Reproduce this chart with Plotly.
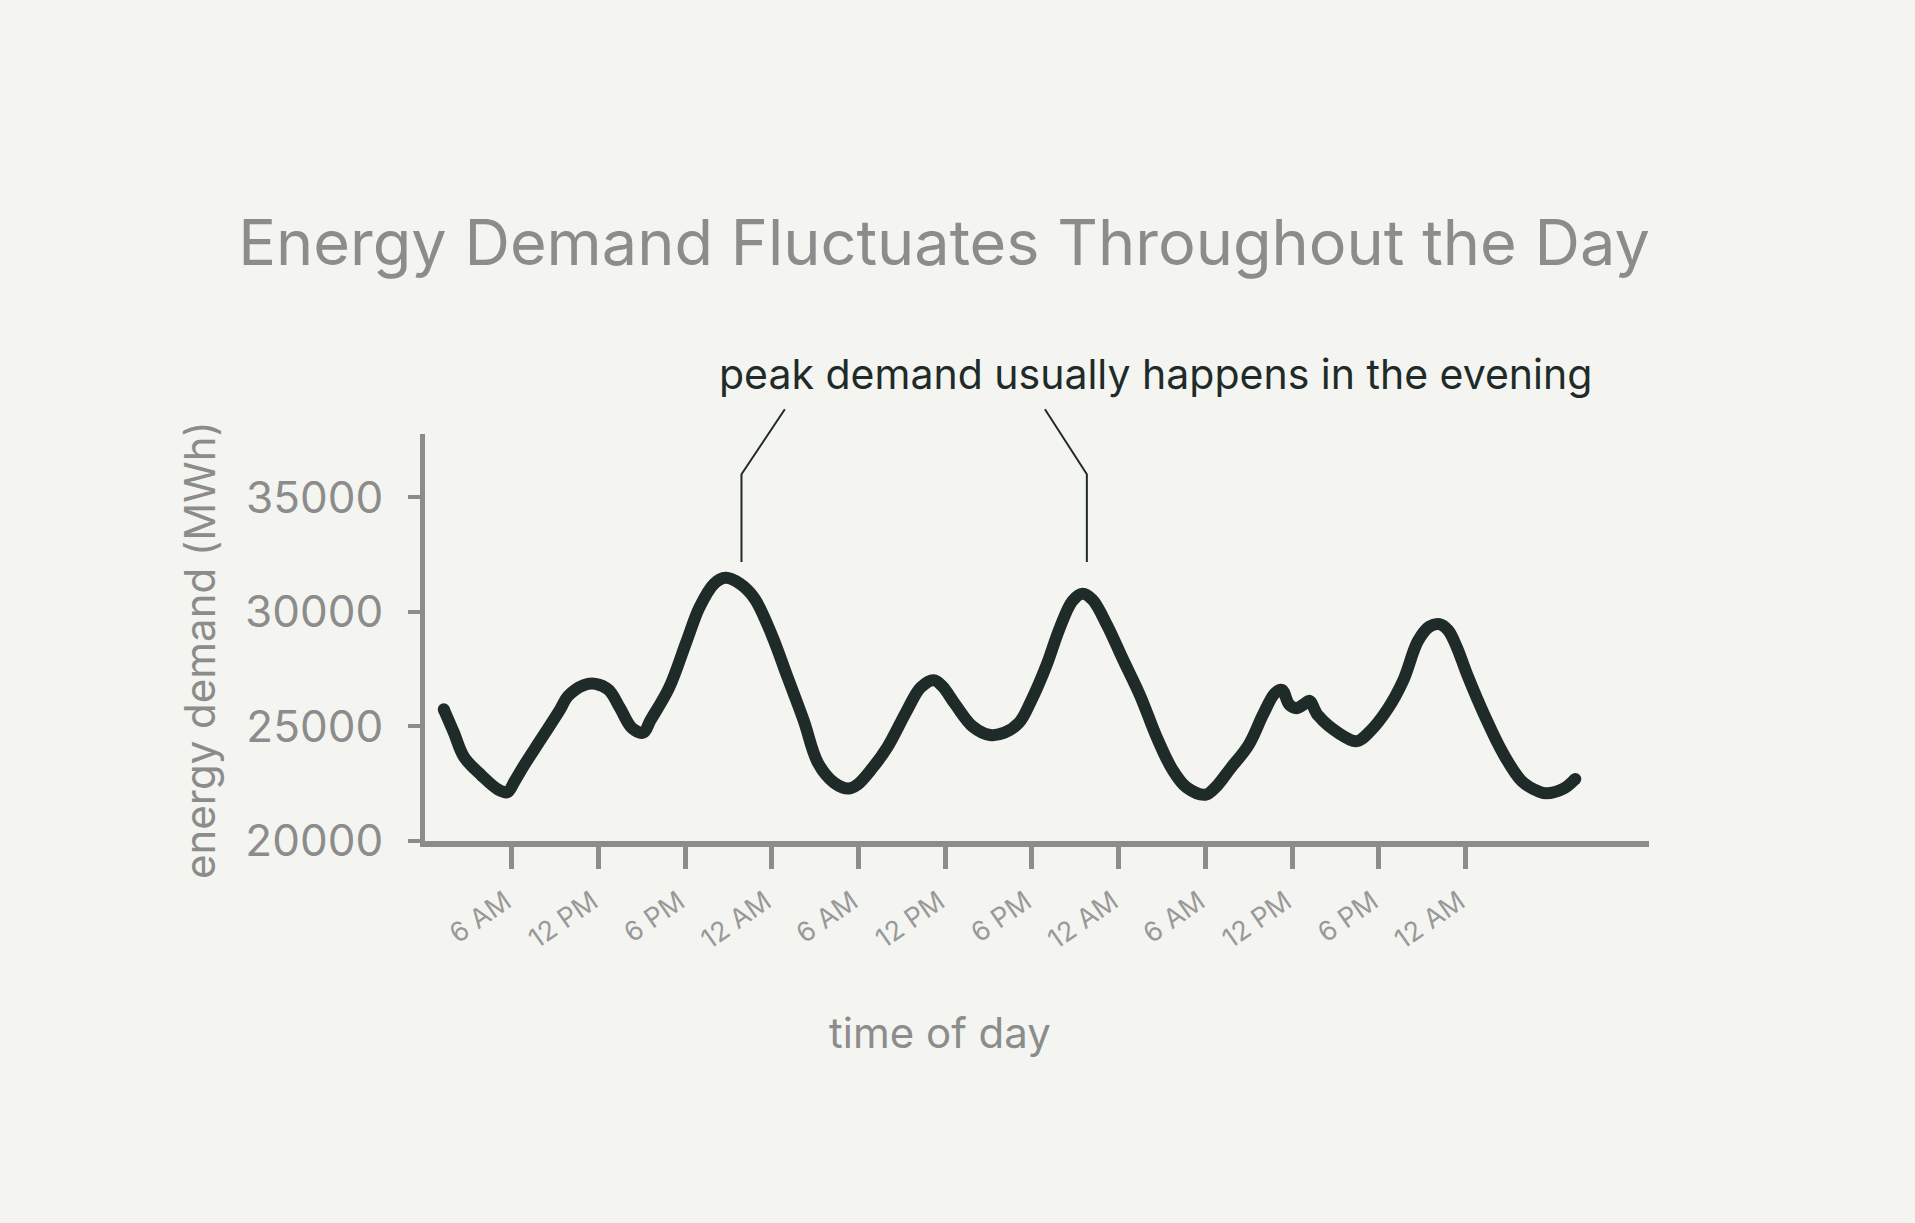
import plotly.graph_objects as go

# ---- data (hours since midnight of day 1, energy demand in MWh) ----
hours = [1.3, 2.0, 2.7, 3.9, 5.1, 5.7, 6.2, 6.8, 8.0, 9.3, 9.9, 11.0, 11.8, 12.7, 13.5, 14.3,
         15.1, 15.6, 16.9, 18.1, 19.0, 20.0, 20.8, 21.8, 22.8, 24.0, 25.1, 26.2, 27.2, 28.3,
         29.3, 29.9, 30.9, 32.0, 33.3, 34.3, 35.2, 35.8, 36.7, 37.9, 39.1, 40.1, 41.1, 41.9,
         43.0, 43.9, 44.8, 45.5, 46.2, 47.2, 48.3, 49.5, 50.6, 51.7, 52.7, 54.0, 54.7, 55.7,
         57.0, 58.0, 58.8, 59.3, 59.8, 60.3, 60.8, 61.2, 61.8, 63.3, 64.5, 65.4, 66.6, 67.7,
         68.7, 69.5, 70.2, 70.8, 71.4, 72.1, 73.4, 74.6, 75.9, 77.0, 77.6, 78.8, 79.6]
demand = [25750, 24730, 23670, 22870, 22230, 22130, 22610, 23250, 24420, 25690, 26330, 26810,
          26860, 26600, 25800, 24950, 24730, 25270, 26700, 28720, 30210, 31230, 31490, 31230,
          30590, 28990, 27130, 25270, 23400, 22550, 22290, 22450, 23140, 24100, 25640, 26700,
          27020, 26760, 25960, 25000, 24630, 24730, 25160, 26060, 27660, 29260, 30480, 30800,
          30530, 29420, 27930, 26330, 24580, 23140, 22340, 22020, 22340, 23140, 24200, 25530,
          26440, 26600, 25960, 25800, 25960, 26120, 25480, 24680, 24360, 24790, 25750, 27020,
          28720, 29360, 29470, 29200, 28460, 27290, 25370, 23830, 22610, 22180, 22080, 22290,
          22710]

tick_hours = [6, 12, 18, 24, 30, 36, 42, 48, 54, 60, 66, 72]
tick_labels = ["6 AM", "12 PM", "6 PM", "12 AM", "6 AM", "12 PM", "6 PM", "12 AM",
               "6 AM", "12 PM", "6 PM", "12 AM"]
y_ticks = [20000, 25000, 30000, 35000]
y_tick_labels = ["20000", "25000", "30000", "35000"]

# callout geometry (hour, MWh)
callout_hours = [21.9, 45.8]
callout_elbow_hours = [24.9, 42.9]
callout_bottom = 32180
callout_mid = 36010
callout_top = 38850

X_RANGE = [0, 84.7]
Y_RANGE = [20000, 37770]

BG = "#f4f5f0"
INK = "#1f2b29"
GRAY = "#8c8c8c"
FONT = "Inter"

W, H = 1915, 1223
L, R, T, B = 425, 266, 434, 382


def xdom(h):
    return (h - X_RANGE[0]) / (X_RANGE[1] - X_RANGE[0])


def ydom(v):
    return (v - Y_RANGE[0]) / (Y_RANGE[1] - Y_RANGE[0])


fig = go.Figure()
fig.add_trace(go.Scatter(
    x=hours, y=demand, mode="lines",
    line=dict(color=INK, width=12, shape="spline", smoothing=1.0),
    hoverinfo="skip", showlegend=False,
))
# round end caps
fig.add_trace(go.Scatter(
    x=[hours[0], hours[-1]], y=[demand[0], demand[-1]], mode="markers",
    marker=dict(color=INK, size=12, line=dict(width=0)),
    hoverinfo="skip", showlegend=False, cliponaxis=False,
))

shapes = []
for h, eh in zip(callout_hours, callout_elbow_hours):
    shapes.append(dict(
        type="path", xref="x domain", yref="y domain",
        path=f"M {xdom(h)} {ydom(callout_bottom)} L {xdom(h)} {ydom(callout_mid)} "
             f"L {xdom(eh)} {ydom(callout_top)}",
        line=dict(color=INK, width=2), layer="above",
    ))

pw = W - L - R
ph = H - T - B

annotations = [
    dict(text="peak demand usually happens in the evening", xref="paper", yref="paper",
         x=(1155 - L) / pw, y=(H - B - 374) / ph, xanchor="center", yanchor="middle",
         showarrow=False, font=dict(family=FONT, size=41, color=INK)),
    dict(text="energy demand (MWh)", xref="paper", yref="paper",
         x=(199 - L) / pw, y=(H - B - 650) / ph, xanchor="center", yanchor="middle",
         textangle=-90, showarrow=False, font=dict(family=FONT, size=42, color=GRAY)),
    dict(text="time of day", xref="paper", yref="paper",
         x=(940 - L) / pw, y=(H - B - 1032) / ph, xanchor="center", yanchor="middle",
         showarrow=False, font=dict(family=FONT, size=42, color=GRAY)),
]

fig.update_layout(
    width=W, height=H,
    paper_bgcolor=BG, plot_bgcolor=BG,
    margin=dict(l=L, r=R, t=T, b=B, autoexpand=False),
    title=dict(text="Energy Demand Fluctuates Throughout the Day",
               x=944 / W, xanchor="center", y=1 - 243 / H, yanchor="middle",
               font=dict(family=FONT, size=63, color=GRAY)),
    xaxis=dict(range=X_RANGE, tickmode="array", tickvals=tick_hours,
               ticktext=[t + "\u00a0" for t in tick_labels],
               tickangle=-35, ticks="outside", ticklen=22, tickwidth=5, tickcolor=GRAY,
               showline=True, linecolor=GRAY, linewidth=6, showgrid=False, zeroline=False,
               tickfont=dict(family=FONT, size=27, color="#999999"), ticklabelstandoff=2),
    yaxis=dict(range=Y_RANGE, tickmode="array", tickvals=y_ticks, ticktext=y_tick_labels,
               ticks="outside", ticklen=12, tickwidth=4, tickcolor=GRAY,
               showline=True, linecolor=GRAY, linewidth=5, showgrid=False, zeroline=False,
               tickfont=dict(family=FONT, size=44, color=GRAY), ticklabelstandoff=16),
    shapes=shapes, annotations=annotations, showlegend=False,
)

fig.write_html("out.html", config={"displayModeBar": False},
               post_script="document.body.style.margin='0';document.body.style.overflow='hidden';")
